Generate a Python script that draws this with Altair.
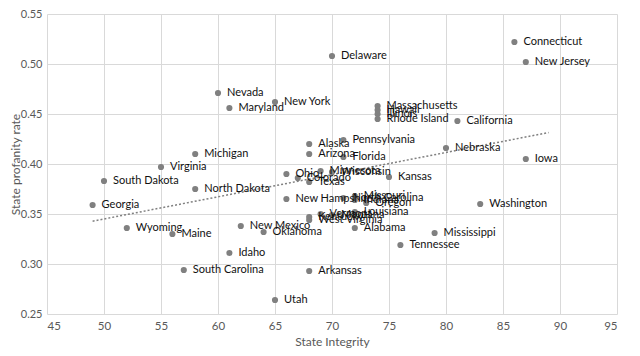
import altair as alt
import pandas as pd

states = ["Connecticut", "New Jersey", "Delaware", "Nevada", "Maryland", "New York",
          "Massachusetts", "Hawaii", "Illinois", "Rhode Island", "California",
          "Michigan", "Alaska", "Pennsylvania", "Arizona", "Florida", "Nebraska", "Iowa",
          "Virginia", "South Dakota", "Ohio", "Colorado", "Texas", "Minnesota", "Wisconsin",
          "Kansas", "North Dakota", "New Hampshire", "North Carolina", "Indiana", "Missouri",
          "Oregon", "Washington", "Georgia", "Vermont", "Montana", "Louisiana",
          "Kentucky", "West Virginia", "Alabama", "Wyoming", "Maine", "New Mexico",
          "Oklahoma", "Mississippi", "Tennessee", "Idaho", "South Carolina", "Arkansas", "Utah"]
integrity = [86, 87, 70, 60, 61, 65,
             74, 74, 74, 74, 81,
             58, 68, 71, 68, 71, 80, 87,
             55, 50, 66, 67, 68, 69, 70,
             75, 58, 66, 71, 72, 72,
             73, 83, 49, 69, 70, 72,
             68, 68, 72, 52, 56, 62,
             64, 79, 76, 61, 57, 68, 65]
profanity = [0.522, 0.502, 0.508, 0.471, 0.456, 0.462,
             0.458, 0.454, 0.450, 0.445, 0.443,
             0.410, 0.420, 0.424, 0.410, 0.407, 0.416, 0.405,
             0.397, 0.383, 0.390, 0.386, 0.382, 0.393, 0.392,
             0.387, 0.375, 0.365, 0.366, 0.364, 0.368,
             0.361, 0.360, 0.359, 0.350, 0.349, 0.352,
             0.347, 0.344, 0.336, 0.336, 0.330, 0.338,
             0.332, 0.331, 0.319, 0.311, 0.294, 0.293, 0.264]

x_ticks = [45, 50, 55, 60, 65, 70, 75, 80, 85, 90, 95]
y_ticks = [0.25, 0.30, 0.35, 0.40, 0.45, 0.50, 0.55]

df = pd.DataFrame({"state": states, "integrity": integrity, "profanity": profanity})

FONT = "Lato"
GRAY = "#595959"

x_enc = alt.X("integrity:Q", scale=alt.Scale(domain=[45, 95], nice=False, zero=False),
              axis=alt.Axis(values=x_ticks, title="State Integrity", grid=True,
                            gridColor="#d9d9d9", domain=False, ticks=False,
                            labelPadding=6, labelFont=FONT, labelFontSize=11.5,
                            labelColor=GRAY, titleFont=FONT, titleFontSize=12,
                            titleFontWeight="normal", titleColor=GRAY, titlePadding=5))
y_enc = alt.Y("profanity:Q", scale=alt.Scale(domain=[0.25, 0.55], nice=False, zero=False),
              axis=alt.Axis(values=y_ticks, format=".2f", title="State profanity rate",
                            grid=True, gridColor="#d9d9d9", domain=False, ticks=False,
                            labelPadding=5, labelFont=FONT, labelFontSize=11,
                            labelColor=GRAY, titleFont=FONT, titleFontSize=12,
                            titleFontWeight="normal", titleColor=GRAY,
                            titleX=-28, titleBaseline="alphabetic"))

base = alt.Chart(df)

points = base.mark_circle(size=38, color="#808080", opacity=1).encode(x=x_enc, y=y_enc)

labels = base.mark_text(align="left", baseline="middle", dx=9, font=FONT, fontSize=11,
                        color="#111111").encode(x="integrity:Q", y="profanity:Q", text="state:N")

trend = base.transform_regression("integrity", "profanity", extent=[49, 89]).mark_line(
    color="#808080", strokeDash=[2, 2], strokeWidth=1.5
).encode(x="integrity:Q", y="profanity:Q")

chart = alt.layer(points, trend, labels).properties(
    width=570, height=300,
    autosize=alt.AutoSizeParams(type="none"),
    padding={"left": 39, "top": 6, "right": 15, "bottom": 34},
    background="white"
).configure_view(stroke=None)

chart.save("out.html", embed_options={"renderer": "svg", "actions": False})
